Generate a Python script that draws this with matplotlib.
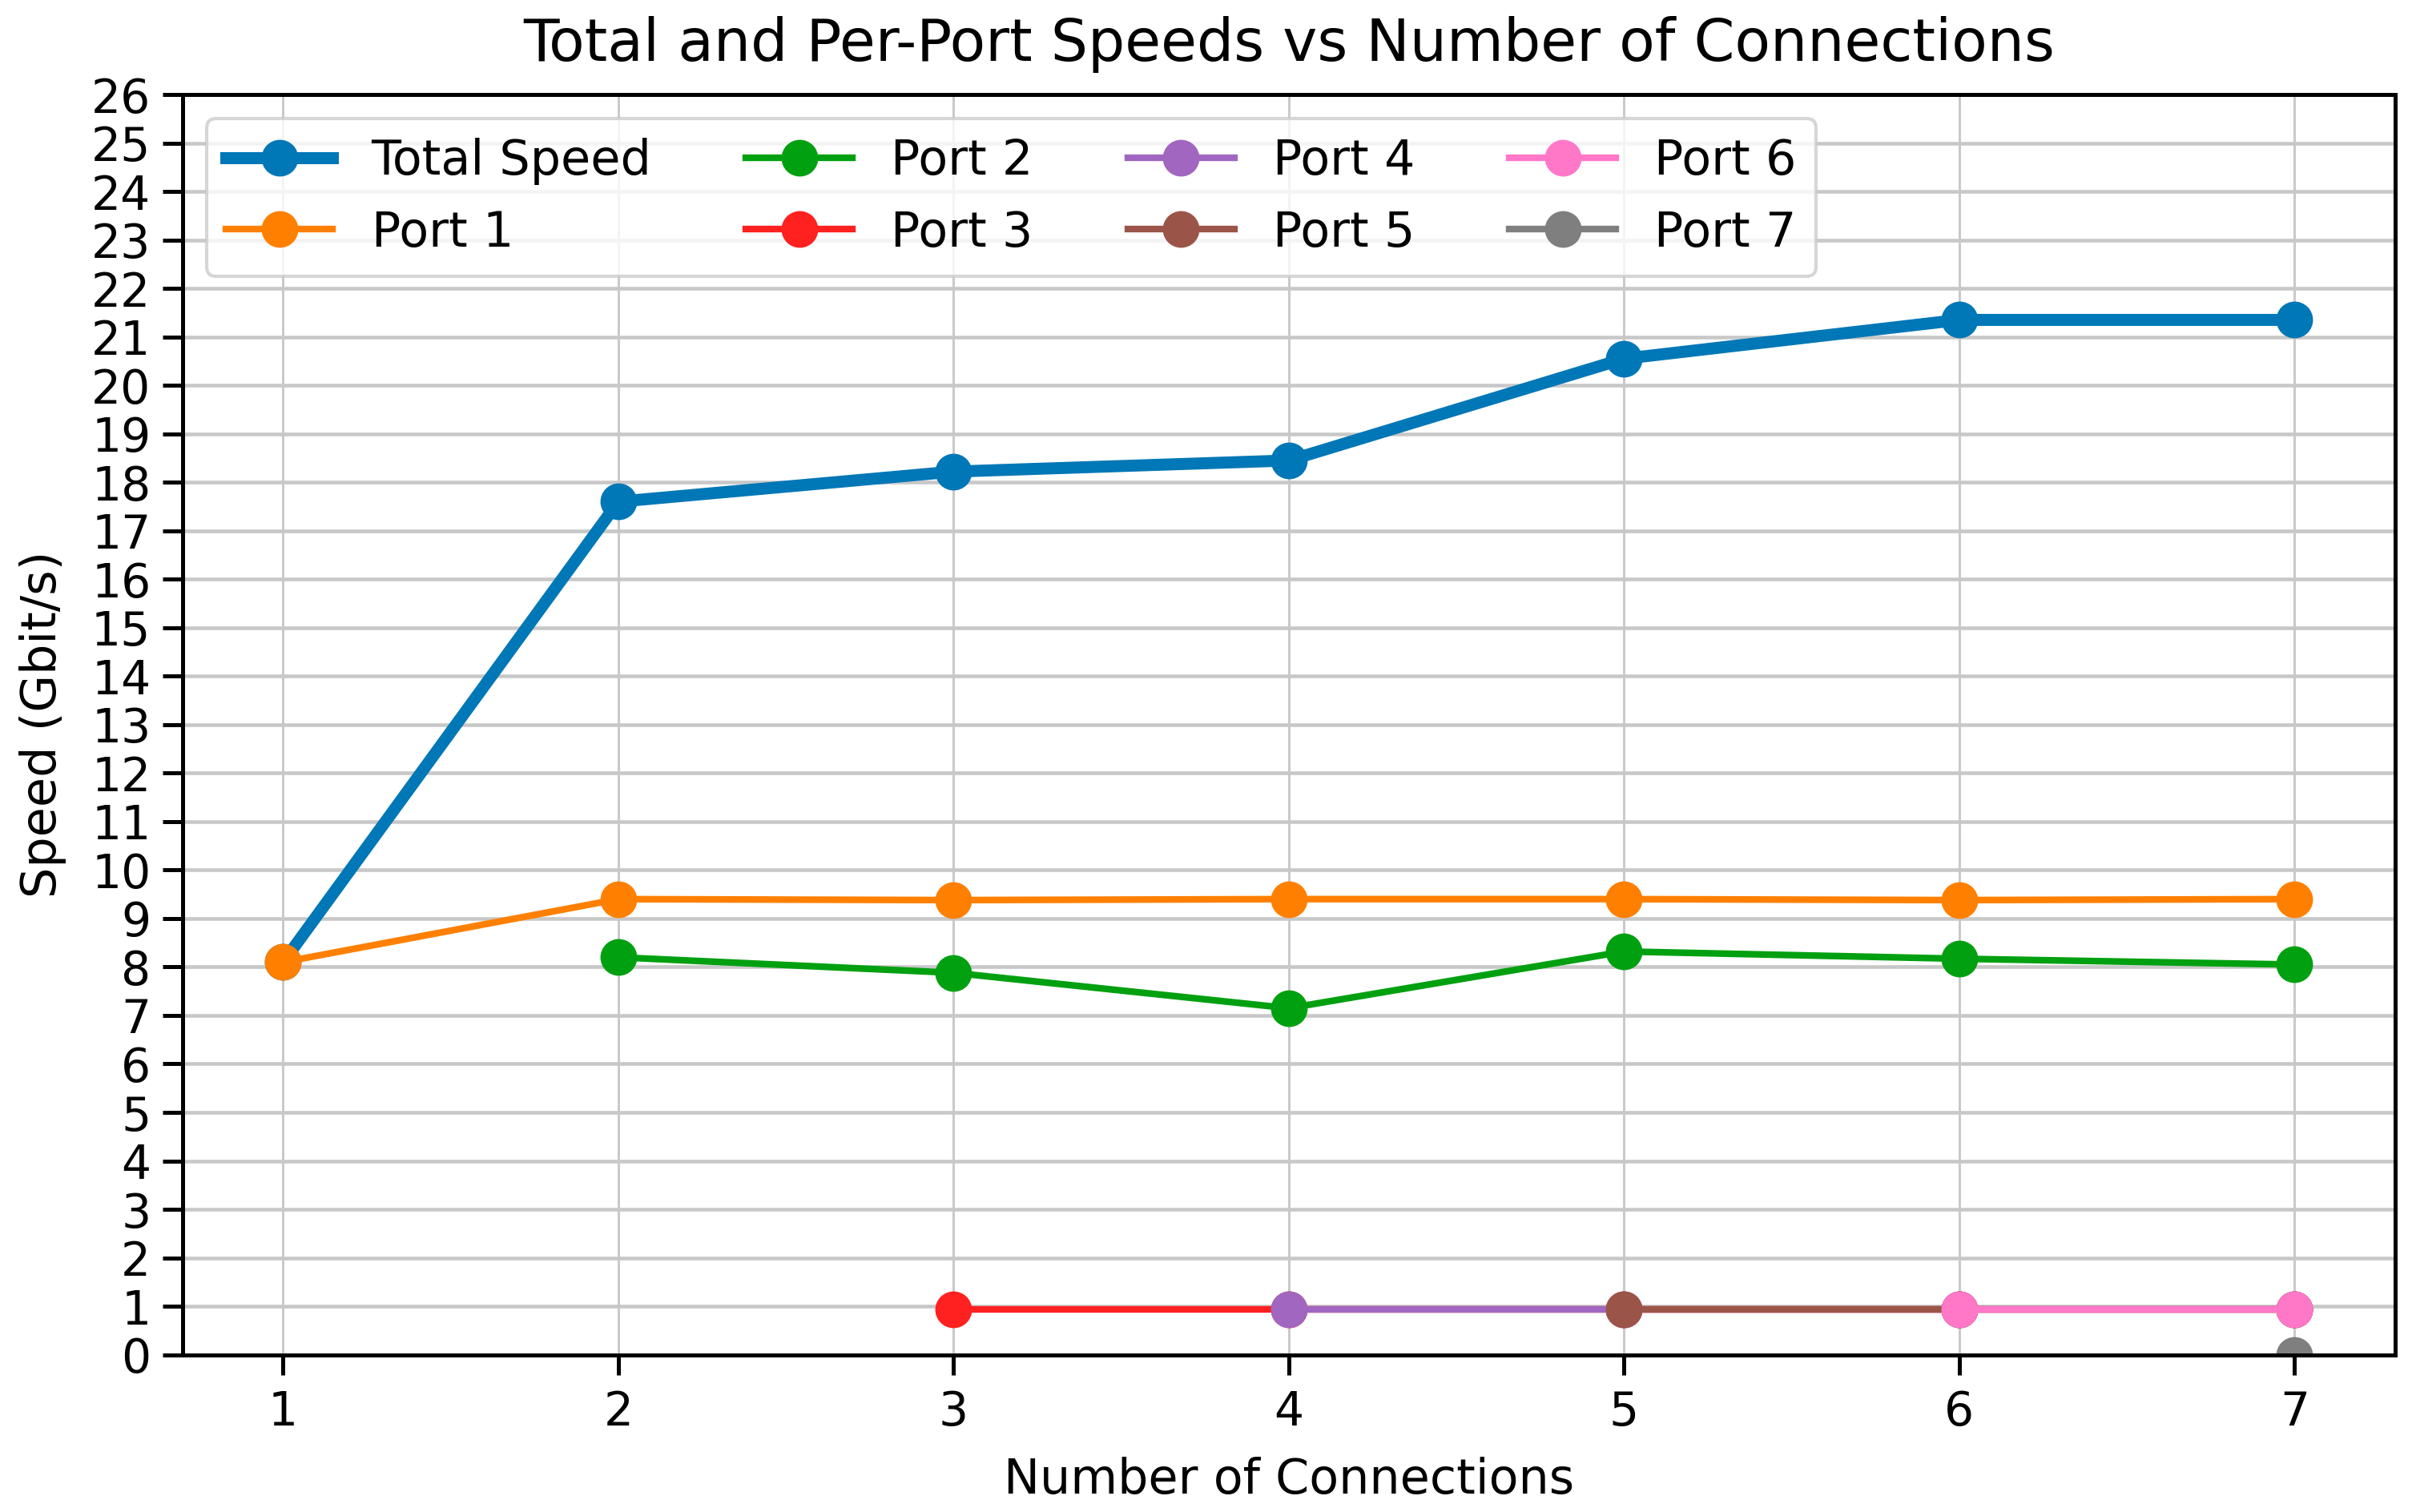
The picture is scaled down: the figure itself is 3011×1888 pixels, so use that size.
import numpy as np
import matplotlib
matplotlib.use("Agg")
import matplotlib.pyplot as plt

# data
connections = [1, 2, 3, 4, 5, 6, 7]
total_speed = [8.1, 17.6, 18.22, 18.45, 20.55, 21.35, 21.35]
port1 = [8.1, 9.4, 9.38, 9.4, 9.4, 9.38, 9.4]
port2 = [8.2, 7.88, 7.15, 8.32, 8.17, 8.05]
port3 = [0.94, 0.94, 0.94, 0.94, 0.94]
port4 = [0.94, 0.94, 0.94, 0.94]
port5 = [0.94, 0.94, 0.94]
port6 = [0.94, 0.94]
port7 = [0.0]

port_series = [port1, port2, port3, port4, port5, port6, port7]
port_labels = ["Port 1", "Port 2", "Port 3", "Port 4", "Port 5", "Port 6", "Port 7"]

colors = ["#0077b6", "#ff8000", "#00a010", "#ff2020", "#a066c0",
          "#9b5548", "#ff78c8", "#7f7f7f"]

fig = plt.figure(figsize=(3011 / 300, 1888 / 300), dpi=300)
ax = fig.add_axes([0.0757, 0.104, 0.9173, 0.8335])

ax.plot(connections, total_speed, marker="o", color=colors[0], lw=3.6,
        markersize=10, label="Total Speed")

# port k joins at connection k, so each series starts further right
for k, (vals, lab) in enumerate(zip(port_series, port_labels)):
    xs = connections[k:k + len(vals)]
    ax.plot(xs, vals, marker="o", color=colors[k + 1], lw=2,
            markersize=10, label=lab)

ax.set_ylim(0, 26)
ax.set_yticks(np.arange(0, 27, 1))
ax.set_xticks(connections)
ax.tick_params(labelsize=14, length=6, width=1.2)
ax.tick_params(axis="x", pad=4.5)
for sp in ax.spines.values():
    sp.set_linewidth(1.2)

ax.grid(True, axis="y", color="#c8c8c8", lw=1.1)
ax.grid(True, axis="x", color="#c8c8c8", lw=0.7)
ax.set_axisbelow(True)

ax.set_title("Total and Per-Port Speeds vs Number of Connections", fontsize=17.5, pad=10)
ax.set_xlabel("Number of Connections", fontsize=14.5, labelpad=6.5)
ax.set_ylabel("Speed (Gbit/s)", fontsize=14.5, labelpad=7.5)

ax.legend(loc="upper left", ncol=4, fontsize=14.5, handlelength=2.2,
          columnspacing=1.95, borderaxespad=0.5)

fig.savefig("out.png", dpi=300)
